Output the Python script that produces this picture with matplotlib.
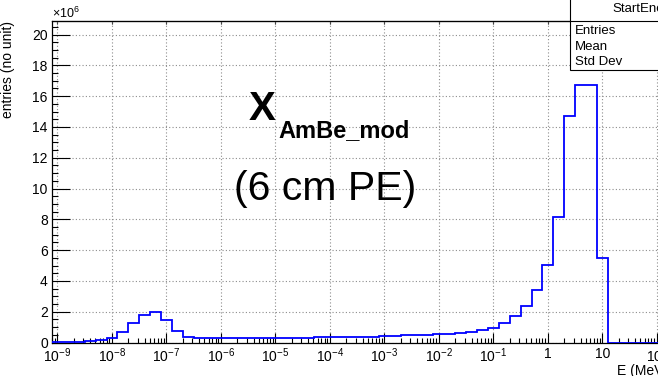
import numpy as np
import matplotlib
matplotlib.use("Agg")
import matplotlib.pyplot as plt
from matplotlib.patches import Rectangle
from matplotlib.lines import Line2D
from matplotlib.ticker import LogLocator, MultipleLocator, FuncFormatter, NullFormatter, NullLocator

plt.rcParams['font.family'] = ['Liberation Sans', 'DejaVu Sans']
plt.rcParams['mathtext.fontset'] = 'custom'
plt.rcParams['mathtext.rm'] = 'Liberation Sans'
plt.rcParams['mathtext.it'] = 'Liberation Sans:italic'
plt.rcParams['mathtext.bf'] = 'Liberation Sans:bold'

# log binning: 5 bins per decade starting at 8e-10 MeV
log_emin = np.log10(8e-10)
bin_edges = 10 ** (log_emin + 0.2 * np.arange(57))

# entries per bin (x 1e6)
entries = [
    0.01, 0.02, 0.05, 0.10, 0.19, 0.31, 0.66, 1.25, 1.79, 1.96,
    1.43, 0.72, 0.34, 0.27, 0.26, 0.26, 0.26, 0.27, 0.27, 0.27,
    0.28, 0.32, 0.32, 0.32, 0.33, 0.33, 0.36, 0.36, 0.37, 0.37,
    0.42, 0.43, 0.48, 0.49, 0.50, 0.55, 0.57, 0.64, 0.70, 0.80,
    0.96, 1.25, 1.74, 2.39, 3.41, 5.04, 8.16, 14.71, 16.75, 16.75,
    5.52, 0.0, 0.0, 0.0, 0.0, 0.0,
]

hist_name = 'StartEnergy'
stat_rows = ['Entries', 'Mean', 'Std Dev']

W, H = 658, 376
fig = plt.figure(figsize=(W / 100, H / 100), dpi=100)

# pad frame in pixels (right edge runs past the canvas)
px_left, px_right = 52, 662.4
px_bottom, px_top = 342.5, 20.7
ax = fig.add_axes([px_left / W, 1 - px_bottom / H,
                   (px_right - px_left) / W, (px_bottom - px_top) / H])

ax.stairs(entries, bin_edges, color='#0000ff', linewidth=1.3, zorder=3)

ax.set_xscale('log')
ax.set_xlim(bin_edges[0], bin_edges[-1])
ax.set_ylim(0, 20.9)


def energy_label(v, pos):
    e = int(round(np.log10(v)))
    if e == 0:
        return '1'
    if e == 1:
        return '10'
    return r'$\mathdefault{10^{%d}}$' % e


ax.xaxis.set_major_locator(LogLocator(base=10, numticks=20))
ax.xaxis.set_minor_locator(LogLocator(base=10, subs=np.arange(2, 10), numticks=20))
ax.xaxis.set_major_formatter(FuncFormatter(energy_label))
ax.xaxis.set_minor_formatter(NullFormatter())
ax.yaxis.set_major_locator(MultipleLocator(2))
ax.yaxis.set_minor_locator(MultipleLocator(0.5))

ax.tick_params(axis='x', which='major', direction='in', length=7.5, width=0.8,
               pad=3, labelsize=10, top=False)
ax.tick_params(axis='x', which='minor', direction='in', length=3.6, width=0.8, top=False)
ax.tick_params(axis='y', which='major', direction='in', length=13, width=0.8,
               pad=3, labelsize=10, right=False)
ax.tick_params(axis='y', which='minor', direction='in', length=4.3, width=0.8, right=False)

# short ticks on the upper frame
top = ax.secondary_xaxis('top')
top.xaxis.set_major_locator(LogLocator(base=10, numticks=20))
top.xaxis.set_minor_locator(NullLocator())
top.xaxis.set_major_formatter(NullFormatter())
top.tick_params(direction='in', length=2.5, width=0.8)

ax.grid(True, which='major', color='#8c8c8c', linestyle=(0, (1, 2)), linewidth=0.8)
ax.set_axisbelow(True)
for s in ax.spines.values():
    s.set_linewidth(0.9)

ax.text(-44 / (px_right - px_left), 1.0, 'entries (no unit)', transform=ax.transAxes,
        rotation=90, ha='center', va='top', fontsize=10)
fig.text(52 / W, 1 - 18.5 / H, r'$\times\mathdefault{10^{6}}$', fontsize=9, va='baseline')
fig.text(617 / W, 1 - 375 / H, 'E (MeV)', fontsize=10, va='baseline')

# source label
fig.text(249 / W, 1 - 119.5 / H, 'X', fontsize=29, fontweight='bold', va='baseline')
fig.text(278 / W, 1 - 136.7 / H, 'AmBe_mod', fontsize=17, fontweight='bold', va='baseline')
fig.text(325 / W, 1 - 200 / H, '(6 cm PE)', fontsize=29.5, ha='center', va='baseline')

# statistics box
box = Rectangle((570 / W, 1 - 70 / H), 0.3, 0.3, transform=fig.transFigure,
                facecolor='white', edgecolor='black', linewidth=0.8, zorder=5)
fig.add_artist(box)
fig.add_artist(Line2D([570 / W, 1.0], [1 - 20.7 / H] * 2, transform=fig.transFigure,
                      color='black', linewidth=0.8, zorder=6))
fig.text(612 / W, 1 - 9.3 / H, hist_name, fontsize=9.5, va='center', zorder=7)
for row, yy in zip(stat_rows, [31, 46.7, 62]):
    fig.text(575 / W, 1 - yy / H, row, fontsize=9.5, va='center', zorder=7)

fig.savefig('out.png', dpi=100)
